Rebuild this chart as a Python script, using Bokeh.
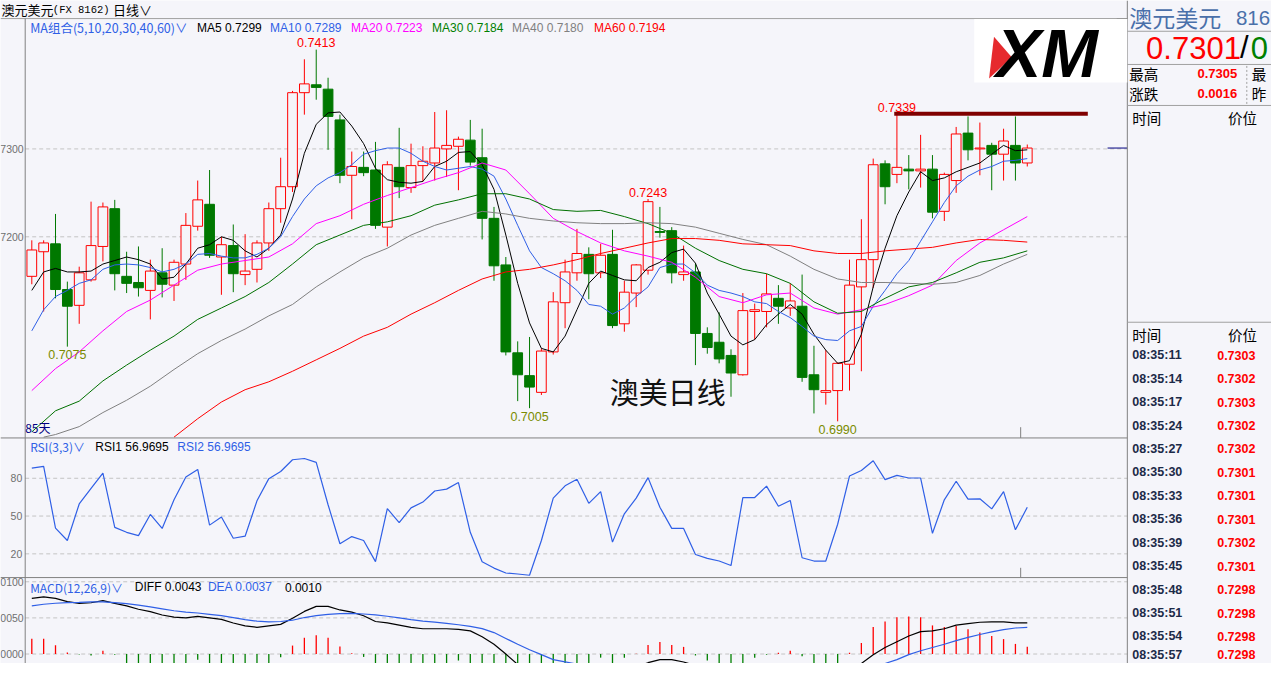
from bokeh.plotting import figure
from bokeh.models import Range1d, ColumnDataSource
from bokeh.embed import file_html
from bokeh.resources import INLINE
from bokeh.core.properties import value

# ---------------- data ----------------
opens = [0.7155, 0.7183, 0.7192, 0.7140, 0.7122, 0.7151, 0.7189, 0.7232, 0.7155, 0.7148,
         0.7139, 0.7159, 0.7145, 0.7169, 0.7212, 0.7237, 0.7177, 0.7190, 0.7157, 0.7163,
         0.7193, 0.7232, 0.7257, 0.7364, 0.7373, 0.7368, 0.7333, 0.7270, 0.7279, 0.7276,
         0.7211, 0.7279, 0.7256, 0.7281, 0.7284, 0.7300, 0.7303, 0.7310, 0.7290, 0.7221,
         0.7168, 0.7068, 0.7042, 0.7023, 0.7069, 0.7125, 0.7159, 0.7180, 0.7159, 0.7180,
         0.7101, 0.7136, 0.7162, 0.7206, 0.7207, 0.7157, 0.7160, 0.7090, 0.7080, 0.7065,
         0.7043, 0.7115, 0.7115, 0.7130, 0.7119, 0.7121, 0.7043, 0.7023, 0.7025, 0.7055,
         0.7143, 0.7174, 0.7283, 0.7271, 0.7277, 0.7275, 0.7277, 0.7229, 0.7264, 0.7318,
         0.7300, 0.7304, 0.7294, 0.7304, 0.7284]
highs = [0.7196, 0.7196, 0.7226, 0.7149, 0.7166, 0.7240, 0.7239, 0.7242, 0.7183, 0.7189,
         0.7174, 0.7187, 0.7174, 0.7227, 0.7264, 0.7276, 0.7200, 0.7214, 0.7203, 0.7196,
         0.7239, 0.7290, 0.7366, 0.7402, 0.7413, 0.7381, 0.7339, 0.7297, 0.7297, 0.7308,
         0.7286, 0.7324, 0.7306, 0.7303, 0.7342, 0.7344, 0.7314, 0.7333, 0.7323, 0.7234,
         0.7177, 0.7081, 0.7086, 0.7073, 0.7137, 0.7174, 0.7209, 0.7188, 0.7192, 0.7208,
         0.7150, 0.7169, 0.7243, 0.7234, 0.7211, 0.7190, 0.7170, 0.7097, 0.7114, 0.7072,
         0.7136, 0.7124, 0.7158, 0.7145, 0.7147, 0.7157, 0.7076, 0.7071, 0.7057, 0.7174,
         0.7220, 0.7289, 0.7287, 0.7339, 0.7293, 0.7316, 0.7293, 0.7273, 0.7325, 0.7337,
         0.7330, 0.7307, 0.7323, 0.7337, 0.7305]
lows = [0.7146, 0.7115, 0.7130, 0.7075, 0.7101, 0.7149, 0.7172, 0.7139, 0.7136, 0.7132,
        0.7106, 0.7131, 0.7127, 0.7151, 0.7207, 0.7176, 0.7134, 0.7137, 0.7145, 0.7148,
        0.7184, 0.7216, 0.7251, 0.7339, 0.7356, 0.7299, 0.7261, 0.7220, 0.7269, 0.7209,
        0.7189, 0.7244, 0.7250, 0.7263, 0.7264, 0.7268, 0.7253, 0.7281, 0.7197, 0.7150,
        0.7065, 0.7013, 0.7005, 0.7020, 0.7066, 0.7096, 0.7150, 0.7129, 0.7153, 0.7096,
        0.7092, 0.7120, 0.7157, 0.7199, 0.7147, 0.7150, 0.7054, 0.7067, 0.7056, 0.7018,
        0.7042, 0.7083, 0.7097, 0.7101, 0.7110, 0.7035, 0.6999, 0.7009, 0.6990, 0.7025,
        0.7047, 0.7142, 0.7237, 0.7261, 0.7254, 0.7256, 0.7221, 0.7218, 0.7250, 0.7287,
        0.7270, 0.7253, 0.7264, 0.7264, 0.7280]
closes = [0.7185, 0.7193, 0.7140, 0.7121, 0.7159, 0.7190, 0.7234, 0.7158, 0.7147, 0.7142,
          0.7161, 0.7146, 0.7171, 0.7213, 0.7242, 0.7179, 0.7191, 0.7158, 0.7161, 0.7193,
          0.7232, 0.7257, 0.7364, 0.7374, 0.7370, 0.7337, 0.7270, 0.7280, 0.7273, 0.7213,
          0.7282, 0.7257, 0.7281, 0.7286, 0.7301, 0.7304, 0.7311, 0.7285, 0.7221, 0.7167,
          0.7069, 0.7043, 0.7029, 0.7070, 0.7126, 0.7160, 0.7181, 0.7158, 0.7179, 0.7099,
          0.7137, 0.7168, 0.7240, 0.7205, 0.7159, 0.7160, 0.7090, 0.7074, 0.7061, 0.7045,
          0.7116, 0.7117, 0.7135, 0.7121, 0.7127, 0.7040, 0.7026, 0.7025, 0.7056, 0.7145,
          0.7174, 0.7282, 0.7257, 0.7279, 0.7275, 0.7277, 0.7228, 0.7271, 0.7317, 0.7299,
          0.7301, 0.7294, 0.7309, 0.7284, 0.7301]

ma5 = [0.7139, 0.7160, 0.7164, 0.7160, 0.7160, 0.7161, 0.7169, 0.7173, 0.7177, 0.7174,
       0.7169, 0.7152, 0.7154, 0.7169, 0.7187, 0.7191, 0.7200, 0.7196, 0.7184, 0.7177,
       0.7187, 0.7202, 0.7243, 0.7295, 0.7328, 0.7341, 0.7342, 0.7326, 0.7306, 0.7278,
       0.7265, 0.7262, 0.7261, 0.7263, 0.7280, 0.7286, 0.7296, 0.7297, 0.7282, 0.7254,
       0.7202, 0.7147, 0.7102, 0.7073, 0.7069, 0.7087, 0.7117, 0.7147, 0.7161, 0.7156,
       0.7151, 0.7150, 0.7165, 0.7171, 0.7182, 0.7186, 0.7170, 0.7136, 0.7112, 0.7087,
       0.7077, 0.7083, 0.7100, 0.7112, 0.7123, 0.7112, 0.7089, 0.7071, 0.7056, 0.7059,
       0.7089, 0.7143, 0.7187, 0.7224, 0.7251, 0.7274, 0.7264, 0.7267, 0.7274, 0.7279,
       0.7284, 0.7294, 0.7304, 0.7298, 0.7299]
ma10 = [0.7093, 0.7117, 0.7132, 0.7139, 0.7147, 0.7151, 0.7163, 0.7168, 0.7169, 0.7168,
        0.7165, 0.7160, 0.7163, 0.7169, 0.7180, 0.7181, 0.7178, 0.7176, 0.7176, 0.7180,
        0.7187, 0.7200, 0.7223, 0.7243, 0.7258, 0.7267, 0.7273, 0.7282, 0.7294, 0.7298,
        0.7301, 0.7301, 0.7295, 0.7286, 0.7280, 0.7276, 0.7278, 0.7280, 0.7277, 0.7269,
        0.7243, 0.7213, 0.7184, 0.7165, 0.7158, 0.7150, 0.7139, 0.7123, 0.7121, 0.7112,
        0.7119, 0.7132, 0.7143, 0.7165, 0.7169, 0.7169, 0.7159, 0.7145, 0.7139, 0.7136,
        0.7132, 0.7126, 0.7124, 0.7115, 0.7108, 0.7098, 0.7087, 0.7083, 0.7082, 0.7093,
        0.7098, 0.7121, 0.7139, 0.7158, 0.7173, 0.7195, 0.7217, 0.7239, 0.7258, 0.7269,
        0.7276, 0.7280, 0.7286, 0.7287, 0.7289]
ma_even_idx = list(range(0, 85, 2))
ma20 = [0.7025, 0.7050, 0.7069, 0.7093, 0.7115, 0.7128, 0.7145, 0.7162, 0.7169, 0.7173,
        0.7177, 0.7192, 0.7215, 0.7224, 0.7237, 0.7247, 0.7256, 0.7265, 0.7273, 0.7284,
        0.7276, 0.7249, 0.7221, 0.7206, 0.7193, 0.7184, 0.7178, 0.7171, 0.7154, 0.7132,
        0.7125, 0.7134, 0.7136, 0.7119, 0.7112, 0.7117, 0.7123, 0.7133, 0.7145, 0.7173,
        0.7193, 0.7208, 0.7223]
ma30 = [0.6978, 0.7002, 0.7013, 0.7036, 0.7054, 0.7071, 0.7087, 0.7106, 0.7119, 0.7132,
        0.7148, 0.7169, 0.7191, 0.7202, 0.7213, 0.7217, 0.7224, 0.7236, 0.7242, 0.7249,
        0.7249, 0.7243, 0.7231, 0.7229, 0.7230, 0.7223, 0.7215, 0.7204, 0.7187, 0.7173,
        0.7163, 0.7158, 0.7147, 0.7126, 0.7113, 0.7115, 0.7130, 0.7143, 0.7148, 0.7159,
        0.7171, 0.7176, 0.7184]
ma40_idx = [1] + list(range(2, 85, 2))
ma40 = [0.6972, 0.6975, 0.6984, 0.7000, 0.7014, 0.7030, 0.7049, 0.7067, 0.7082, 0.7095,
        0.7110, 0.7123, 0.7143, 0.7160, 0.7176, 0.7187, 0.7202, 0.7213, 0.7221, 0.7229,
        0.7226, 0.7221, 0.7218, 0.7216, 0.7215, 0.7215, 0.7216, 0.7215, 0.7211, 0.7204,
        0.7197, 0.7191, 0.7178, 0.7163, 0.7152, 0.7148, 0.7148, 0.7147, 0.7146, 0.7148,
        0.7156, 0.7169, 0.7180]
ma60_idx = list(range(12, 85, 2))
ma60 = [0.6972, 0.6993, 0.7012, 0.7026, 0.7035, 0.7047, 0.7060, 0.7073, 0.7087, 0.7097,
        0.7112, 0.7125, 0.7139, 0.7152, 0.7160, 0.7163, 0.7168, 0.7174, 0.7181, 0.7187,
        0.7193, 0.7198, 0.7198, 0.7196, 0.7192, 0.7191, 0.7190, 0.7184, 0.7181, 0.7181,
        0.7184, 0.7186, 0.7188, 0.7193, 0.7197, 0.7196, 0.7194]

rsi = [88.0, 89.5, 40.4, 30.6, 59.6, 72.0, 84.1, 41.0, 37.1, 34.5,
       51.3, 40.2, 62.9, 81.0, 87.0, 42.8, 49.2, 32.4, 34.0, 62.1,
       79.7, 85.4, 94.7, 95.7, 92.6, 59.0, 28.0, 33.7, 30.6, 13.8,
       55.9, 44.8, 56.5, 61.1, 69.9, 71.4, 76.6, 37.1, 13.8, 8.7,
       4.8, 4.0, 3.0, 30.6, 64.2, 74.0, 79.2, 60.1, 69.4, 29.3,
       51.8, 64.2, 80.5, 57.0, 40.2, 40.2, 19.5, 16.4, 14.3, 10.7,
       64.7, 64.7, 73.8, 57.8, 62.4, 16.9, 14.3, 14.3, 43.5, 81.8,
       86.2, 93.9, 78.9, 82.3, 80.2, 80.2, 36.3, 62.9, 77.6, 63.4,
       63.7, 55.7, 69.4, 39.1, 56.9695]

macd_diff = [0.0077, 0.0079, 0.0077, 0.00725, 0.0070, 0.0071, 0.0074, 0.0070, 0.00667, 0.0062,
             0.00586, 0.0054, 0.0051, 0.0050, 0.0052, 0.0050, 0.0048, 0.0043, 0.0039, 0.0037,
             0.0039, 0.0041, 0.00495, 0.0059, 0.0066, 0.0066, 0.0061, 0.0058, 0.0053, 0.0045,
             0.0043, 0.0040, 0.0037, 0.0035, 0.0035, 0.0035, 0.0034, 0.0032, 0.0024, 0.00135,
             0.0000, -0.00144, -0.0025, -0.0033, -0.0034, -0.0032, -0.0028, -0.0024, -0.0022, -0.0024,
             -0.0022, -0.0018, -0.0012, -0.00078, -0.00078, -0.0011, -0.0016, -0.0022, -0.0028, -0.0034,
             -0.0033, -0.0031, -0.0027, -0.0025, -0.0023, -0.0028, -0.0033, -0.0036, -0.0034, -0.0027,
             -0.00131, -0.00009, 0.0009, 0.0017, 0.0025, 0.0031, 0.0032, 0.0035, 0.0040, 0.0042,
             0.0044, 0.00446, 0.00446, 0.0043, 0.0043]
macd_dea = [0.00667, 0.00689, 0.00703, 0.00712, 0.00716, 0.00721, 0.00721, 0.00712, 0.00698, 0.00676,
            0.00653, 0.00626, 0.00599, 0.00581, 0.00568, 0.0055, 0.00532, 0.00505, 0.00477, 0.00455,
            0.00446, 0.0045, 0.00468, 0.00505, 0.00532, 0.0055, 0.00559, 0.00563, 0.00554, 0.00541,
            0.00523, 0.0050, 0.00477, 0.00455, 0.00441, 0.00423, 0.00405, 0.00383, 0.00351, 0.00297,
            0.00216, 0.00135, 0.00059, -0.00009, -0.00077, -0.00108, -0.0014, -0.0017, -0.0019, -0.0020,
            -0.0020, -0.0019, -0.0018, -0.0016, -0.0014, -0.0014, -0.0015, -0.0017, -0.0020, -0.0023,
            -0.0025, -0.0026, -0.0026, -0.0026, -0.0026, -0.0027, -0.0029, -0.0030, -0.0031, -0.0029,
            -0.0024, -0.0019, -0.00131, -0.00077, -0.00009, 0.00045, 0.0009, 0.00135, 0.00185, 0.0023,
            0.0027, 0.00306, 0.00338, 0.0036, 0.0037]
macd_hist = [0.0021, 0.0021, 0.0012, 0.0002, -0.00005, -0.0002, 0.00045, -0.0001, -0.0014, -0.0016,
             -0.0016, -0.0017, -0.0018, -0.0016, -0.0008, -0.0014, -0.0015, -0.0015, -0.0018, -0.0017,
             -0.0014, -0.00045, 0.00117, 0.00225, 0.0026, 0.00225, 0.00104, 0.0001, -0.0004, -0.0018,
             -0.0019, -0.0021, -0.0022, -0.0021, -0.0018, -0.0015, -0.0009, -0.0013, -0.0022, -0.0032,
             -0.0043, -0.0056, -0.0062, -0.0064, -0.0053, -0.0042, -0.0028, -0.0014, -0.0005, -0.0016,
             -0.0005, 0.00003, 0.00126, 0.00167, 0.00126, 0.00099, -0.0002, -0.0009, -0.0016, -0.0022,
             -0.0016, -0.0005, -0.0001, 0.00018, 0.00045, -0.0003, -0.0016, -0.0019, -0.0014, 0.00018,
             0.00153, 0.00374, 0.0045, 0.00509, 0.00518, 0.00509, 0.00396, 0.00374, 0.00387, 0.00342,
             0.00297, 0.00248, 0.00207, 0.0014, 0.0010]

price_ticks = [0.7300, 0.7200]
rsi_ticks = [80, 50, 20]
macd_ticks = [0.0100, 0.0050, 0.0000]
resistance_level = 0.7340
hi_label_idx = [24, 52, 73]
lo_label_idx = [3, 42, 68]

tick_times = ["08:35:11", "08:35:14", "08:35:17", "08:35:24", "08:35:27", "08:35:30", "08:35:33",
              "08:35:36", "08:35:39", "08:35:45", "08:35:48", "08:35:51", "08:35:54", "08:35:57"]
tick_prices = [0.7303, 0.7302, 0.7303, 0.7302, 0.7302, 0.7301, 0.7301,
               0.7301, 0.7302, 0.7301, 0.7298, 0.7298, 0.7298, 0.7298]
quote_bid = 0.7301
quote_high = 0.7305
quote_change = 0.0016

n = len(closes)
for arr in (opens, highs, lows, ma5, ma10, rsi, macd_diff, macd_dea, macd_hist):
    assert len(arr) == n
assert len(ma20) == len(ma_even_idx) == len(ma30)
assert len(ma40) == len(ma40_idx)
assert len(ma60) == len(ma60_idx)

# ---------------- layout geometry (reference pixels) ----------------
REF_W, REF_H = 1287, 679
FIG_W, FIG_H = 1271, 663
CANDLE_X0, CANDLE_STEP = 31.7, 12.0
P_REF, P_REF_Y, P_SCALE = 0.7300, 152.0, 9000.0
RSI_REF, RSI_REF_Y, RSI_SCALE = 50.0, 528.0, 1.29
MACD_REF_Y, MACD_SCALE = 669.3, 7400.0
CHART_L, CHART_R = 25, 1141
HDR_Y, SEP1_Y, SEP2_Y = 18.5, 448, 591

def yrange(ref_val, ref_y, scale):
    return Range1d(ref_val - (REF_H - ref_y) / scale, ref_val + ref_y / scale)

BG = "#f5f5fa"
RED = "#ff0000"
GREEN = "#007800"
BLUE = "#2f5fe6"
CJK = "Noto Sans CJK SC"
LAT = "Liberation Sans"

p = figure(width=FIG_W, height=FIG_H,
           x_range=Range1d((0 - CANDLE_X0) / CANDLE_STEP, (REF_W - CANDLE_X0) / CANDLE_STEP),
           y_range=yrange(P_REF, P_REF_Y, P_SCALE),
           x_axis_type=None, y_axis_type=None, title=None,
           output_backend="svg", toolbar_location=None, min_border=0,
           background_fill_color=BG, border_fill_color=BG, outline_line_color=None)
p.extra_x_ranges = {"px": Range1d(0, REF_W)}
p.extra_y_ranges = {"py": Range1d(REF_H, 0),
                    "rsi": yrange(RSI_REF, RSI_REF_Y, RSI_SCALE),
                    "macd": yrange(0.0, MACD_REF_Y, MACD_SCALE)}

def pseg(x0, y0, x1, y1, color="#808080", width=1, dash="solid"):
    p.segment(x0=[x0], y0=[y0], x1=[x1], y1=[y1], line_color=color, line_width=width,
              line_dash=dash, x_range_name="px", y_range_name="py")

def ptext(x, y, s, color="black", size="12px", font=LAT, align="left", style="normal",
          baseline="middle"):
    p.text(x=[x], y=[y], text=[s], x_range_name="px", y_range_name="py",
           text_color=color, text_font_size=size, text_font=value(font),
           text_align=align, text_baseline=baseline, text_font_style=style)

# ---------------- dashed grid lines ----------------
GRID = dict(line_color="#c4c4c4", line_dash="4 3", line_width=1, x_range_name="px")
p.segment(x0=[CHART_L] * 2, x1=[CHART_R] * 2, y0=price_ticks, y1=price_ticks, **GRID)
p.segment(x0=[CHART_L] * 3, x1=[CHART_R] * 3, y0=rsi_ticks, y1=rsi_ticks, y_range_name="rsi", **GRID)
p.segment(x0=[CHART_L] * 3, x1=[CHART_R] * 3, y0=macd_ticks, y1=macd_ticks, y_range_name="macd", **GRID)

# ---------------- candles ----------------
idx = list(range(n))
up = [c >= o for o, c in zip(opens, closes)]
src = ColumnDataSource(dict(
    x=idx, h=highs, l=lows,
    top=[max(o, c) for o, c in zip(opens, closes)],
    bot=[min(o, c) for o, c in zip(opens, closes)],
    fill=[BG if u else GREEN for u in up],
    line=[RED if u else GREEN for u in up]))
p.segment(x0="x", y0="h", x1="x", y1="l", line_color="line", line_width=1, source=src)
p.vbar(x="x", width=0.82, top="top", bottom="bot", fill_color="fill", line_color="line",
       line_width=1, source=src)

# ---------------- moving averages ----------------
p.line(idx, ma5, line_color="black", line_width=1)
p.line(idx, ma10, line_color=BLUE, line_width=1)
p.line(ma_even_idx, ma20, line_color="#ff00ff", line_width=1)
p.line(ma_even_idx, ma30, line_color="#007000", line_width=1)
p.line(ma40_idx, ma40, line_color="#808080", line_width=1)
p.line(ma60_idx, ma60, line_color=RED, line_width=1)

# resistance line and current-price marker
p.segment(x0=[905], x1=[1101], y0=[resistance_level], y1=[resistance_level],
          line_color="#800000", line_width=4, x_range_name="px")
p.segment(x0=[1121], x1=[CHART_R], y0=[closes[-1]], y1=[closes[-1]],
          line_color="#000080", line_width=1, x_range_name="px")

# high / low labels
p.text(x=hi_label_idx, y=[highs[i] for i in hi_label_idx],
       text=[f"{highs[i]:.4f}" for i in hi_label_idx], y_offset=-7,
       text_align="center", text_baseline="middle", text_color=RED,
       text_font=value(LAT), text_font_size="12.5px")
p.text(x=lo_label_idx, y=[lows[i] for i in lo_label_idx],
       text=[f"{lows[i]:.4f}" for i in lo_label_idx], y_offset=8,
       text_align="center", text_baseline="middle", text_color="#7a8c00",
       text_font=value(LAT), text_font_size="12.5px")

# ---------------- RSI ----------------
p.line(idx, rsi, line_color=BLUE, line_width=1.2, y_range_name="rsi")

# ---------------- MACD ----------------
pos = [i for i in idx if macd_hist[i] >= 0]
neg = [i for i in idx if macd_hist[i] < 0]
p.segment(x0=pos, x1=pos, y0=[0] * len(pos), y1=[macd_hist[i] for i in pos],
          line_color=RED, line_width=1.3, y_range_name="macd")
p.segment(x0=neg, x1=neg, y0=[0] * len(neg), y1=[macd_hist[i] for i in neg],
          line_color="#008000", line_width=1.3, y_range_name="macd")
p.line(idx, macd_diff, line_color="black", line_width=1.2, y_range_name="macd")
p.line(idx, macd_dea, line_color=BLUE, line_width=1.2, y_range_name="macd")

# ---------------- frame lines ----------------
pseg(0, HDR_Y, CHART_R, HDR_Y, color="#a0a0a0")
pseg(CHART_L, HDR_Y, CHART_L, REF_H, color="#808080")
pseg(0, SEP1_Y, CHART_R, SEP1_Y, color="#808080")
pseg(0, SEP2_Y, CHART_R, SEP2_Y, color="#808080")
pseg(CHART_R, 0, CHART_R, REF_H, color="#808080")
pseg(1033, 437, 1033, SEP1_Y, color="#808080")
pseg(1033, 581, 1033, SEP2_Y, color="#808080")
p.patch(x=[1130, CHART_R, CHART_R], y=[HDR_Y, HDR_Y, 27], fill_color="#8a8a8a",
        line_color=None, x_range_name="px", y_range_name="py")

# left tick labels (the reference shows only the last four digits)
AX = dict(x_range_name="px", text_align="right", text_baseline="middle",
          text_color="#707070", text_font=value(LAT), text_font_size="10.5px")
p.text(x=[23.5] * 2, y=price_ticks, text=[f"{t:.4f}"[2:] for t in price_ticks], **AX)
p.text(x=[22] * 3, y=rsi_ticks, text=[str(t) for t in rsi_ticks], y_range_name="rsi", **AX)
p.text(x=[23.5] * 3, y=macd_ticks, text=[f"{t:.4f}"[2:] for t in macd_ticks],
       y_range_name="macd", **AX)

# ---------------- header & legends ----------------
ptext(1, 9.5, "澳元美元", size="13px", font=CJK)
ptext(53, 9.5, "(FX 8162)", size="10.5px", font="Liberation Mono")
ptext(114, 9.5, "日线∨", size="13px", font=CJK)

ptext(30, 28, "MA组合(5,10,20,30,40,60)∨", color=BLUE, size="12.5px", font=CJK)
legend = [(199, "MA5", ma5[-1], "black"), (273, "MA10", ma10[-1], BLUE),
          (355, "MA20", ma20[-1], "#ff00ff"), (437, "MA30", ma30[-1], "#008000"),
          (518, "MA40", ma40[-1], "#808080"), (601, "MA60", ma60[-1], RED)]
for x, name, v, col in legend:
    ptext(x, 28, f"{name} {v:.4f}", color=col, size="12px")

ptext(30, 457, "RSI(3,3)∨", color=BLUE, size="12px", font=CJK)
ptext(96, 457, f"RSI1 {rsi[-1]:.4f}", color="black", size="12px")
ptext(179, 457, f"RSI2 {rsi[-1]:.4f}", color=BLUE, size="12px")

ptext(30, 601, "MACD(12,26,9)∨", color=BLUE, size="12px", font=CJK)
ptext(136, 601, f"DIFF {macd_diff[-1]:.4f}", color="black", size="12px")
ptext(210, 601, f"DEA {macd_dea[-1]:.4f}", color=BLUE, size="12px")
ptext(288, 601, f"{macd_hist[-1]:.4f}", color="black", size="12px")

ptext(25, 437.5, f"{n}天", color="#000080", size="12px", font=CJK)
ptext(617, 400, "澳美日线", color="#111111", size="29px", font=CJK)

# XM logo
p.quad(left=[986], right=[CHART_R], top=[19], bottom=[84], fill_color="white", line_color=None,
       x_range_name="px", y_range_name="py")
p.patch(x=[1006, 1024, 1001], y=[37, 58, 80], fill_color="#e62a2e", line_color=None,
        x_range_name="px", y_range_name="py")
ptext(1008, 54, "XM", color="black", size="68px", font=LAT, style="bold italic")

# ---------------- right quote panel ----------------
for yy in (31.5, 65.5, 107.5, 329.5):
    pseg(CHART_R, yy, REF_W, yy, color="#a0a0a0")
pseg(1262, 67, 1262, 106, color="#a0a0a0", dash="2 2")

ptext(1143, 17, "澳元美元", color="#4a70aa", size="23px", font=CJK)
ptext(1251, 18, "816", color="#4a70aa", size="20.5px", font=LAT)
ptext(1160, 48.5, f"{quote_bid:.4f}", color=RED, size="31px", font=LAT)
ptext(1255, 48.5, "/", color="black", size="31px", font=LAT)
ptext(1266, 48.5, "0", color="#008000", size="31px", font=LAT)

ptext(1143, 75, "最高", size="14.5px", font=CJK)
ptext(1212, 75, f"{quote_high:.4f}", color=RED, size="13px", style="bold")
ptext(1267, 75, "最", size="14.5px", font=CJK)
ptext(1143, 95, "涨跌", size="14.5px", font=CJK)
ptext(1212, 95, f"{quote_change:.4f}", color=RED, size="13px", style="bold")
ptext(1267, 95, "昨", size="14.5px", font=CJK)

ptext(1146, 120, "时间", size="14.5px", font=CJK)
ptext(1243, 120, "价位", size="14.5px", font=CJK)
ptext(1146, 341.7, "时间", size="14.5px", font=CJK)
ptext(1243, 341.7, "价位", size="14.5px", font=CJK)
for k, (t, pr) in enumerate(zip(tick_times, tick_prices)):
    yy = min(363.3 + 24 * k, 670.0)
    ptext(1146, yy, t, color="#1c2a48", size="12.5px", style="bold")
    ptext(1232, yy, f"{pr:.4f}", color=RED, size="12.5px", style="bold")

open("out.html", "w").write(file_html(p, INLINE))
